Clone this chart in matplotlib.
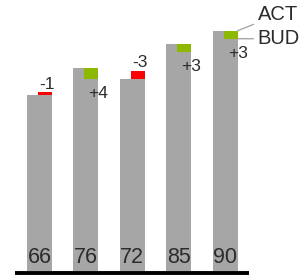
import matplotlib.pyplot as plt
import numpy as np

plt.rcParams["font.family"] = ["Liberation Sans", "DejaVu Sans"]

# data
actual = [66, 76, 72, 85, 90]
delta = [-1, 4, -3, 3, 3]
budget = [a - d for a, d in zip(actual, delta)]

GRAY = "#a6a6a6"
GREEN = "#8cb800"
RED = "#ff0000"
TEXT = "#2b2b2b"

fig = plt.figure(figsize=(3.05, 2.75), dpi=100)
ax = fig.add_axes([0, 0, 1, 1])
ax.set_xlim(-0.851, 5.722)
ax.set_ylim(-1.5, 101.5)
ax.axis("off")

x = np.arange(len(actual))
bar_w = 0.54
box_w = 0.30

ax.bar(x, actual, width=bar_w, color=GRAY, zorder=1)

for xi, a, b, d in zip(x, actual, budget, delta):
    right = xi + bar_w / 2
    color = GREEN if d > 0 else RED
    ax.bar(right - box_w / 2, a - b, bottom=b, width=box_w, color=color, zorder=2)
    label = f"{d:+d}"
    if d > 0:
        ax.annotate(label, (right, min(a, b)), xytext=(0, -5), textcoords="offset points",
                    ha="center", va="top", fontsize=12.5, color=TEXT)
    else:
        ax.annotate(label, (right + 0.05, max(a, b)), xytext=(0, 2.5), textcoords="offset points",
                    ha="right", va="baseline", fontsize=12.5, color=TEXT)
    ax.text(xi, 1.0, str(a), ha="center", va="bottom", fontsize=15.5, color=TEXT, zorder=3)

# baseline
ax.hlines(-0.8, x[0] - 0.53, x[-1] + 0.52, color="black", lw=2.8, zorder=4)

# ACT / BUD pointers on the last bar
last_right = x[-1] + bar_w / 2
line_kw = dict(arrowstyle="-", color="#a8a8a8", lw=1.0, shrinkA=1, shrinkB=0)
ax.annotate("ACT", xy=(last_right, actual[-1]), xytext=(4.70, actual[-1] + 6),
            ha="left", va="center", fontsize=14.5, color=TEXT, arrowprops=line_kw)
ax.annotate("BUD", xy=(last_right, budget[-1]), xytext=(4.70, budget[-1]),
            ha="left", va="center", fontsize=14.5, color=TEXT, arrowprops=line_kw)

fig.savefig("out.png", dpi=100)
